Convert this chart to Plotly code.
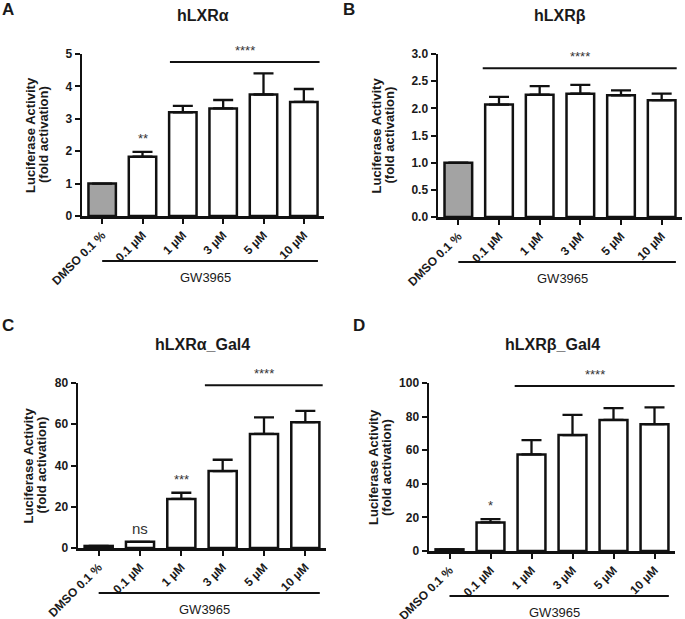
import plotly.graph_objects as go

# ---------------- data ----------------
categories = ["DMSO 0.1 %", "0.1 µM", "1 µM", "3 µM", "5 µM", "10 µM"]
group_label = "GW3965"

titles = ["hLXRα", "hLXRβ", "hLXRα_Gal4", "hLXRβ_Gal4"]
letters = ["A", "B", "C", "D"]

a_values = [1.0, 1.83, 3.20, 3.32, 3.75, 3.52]
a_errors = [0.0, 0.15, 0.20, 0.26, 0.65, 0.40]
b_values = [1.0, 2.07, 2.25, 2.27, 2.24, 2.15]
b_errors = [0.0, 0.14, 0.16, 0.16, 0.09, 0.12]
c_values = [1.0, 3.0, 23.8, 37.3, 55.3, 61.0]
c_errors = [0.0, 0.0, 3.0, 5.5, 8.0, 5.5]
d_values = [1.0, 17.0, 57.5, 69.0, 78.0, 75.5]
d_errors = [0.0, 2.0, 8.5, 12.0, 7.0, 10.0]

y_ranges = [[0, 5], [0, 3], [0, 80], [0, 100]]
y_dticks = [1, 0.5, 20, 20]
y_formats = ["d", ".1f", "d", "d"]

# bracket significance: (label, from category, to category, level)
brackets = [
    ("****", 1.68, 5.39, 4.75),
    ("****", 0.60, 5.37, 2.74),
    ("****", 2.57, 5.42, 78.9),
    ("****", 1.59, 5.49, 98.2),
]
# single-bar marks: (panel, category index, label)
bar_marks = [
    (0, 1, "**"),
    (2, 1, "ns"),
    (2, 2, "***"),
    (3, 1, "*"),
]

values = [a_values, b_values, c_values, d_values]
errors = [a_errors, b_errors, c_errors, d_errors]

# ---------------- layout geometry (pixels) ----------------
W, H = 685, 619
panel_px = [
    dict(x=(82, 324), y=(54, 216), ytitle=(31, 44), letter=(8, 9)),
    dict(x=(438, 682), y=(54, 217), ytitle=(376, 389), letter=(349, 9)),
    dict(x=(78, 326), y=(383, 548), ytitle=(28, 41), letter=(8, 325)),
    dict(x=(429, 675), y=(383, 551), ytitle=(374, 387), letter=(359, 325)),
]
FONT = "Liberation Sans, Arial, sans-serif"
TXT = "#1a1a1a"
GRAY = "#a3a3a3"


def px_x(p):
    return p / W


def px_y(p):
    return 1 - p / H


fig = go.Figure()
layout = dict(
    width=W, height=H, margin=dict(l=0, r=0, t=0, b=0, pad=0, autoexpand=False),
    paper_bgcolor="white", plot_bgcolor="white",
    showlegend=False, bargap=0.3,
    font=dict(family=FONT, color=TXT),
)
shapes = []
annotations = []
n = len(categories)

for i in range(4):
    sfx = "" if i == 0 else str(i + 1)
    xa, ya = "x" + sfx, "y" + sfx
    g = panel_px[i]
    hpx = g["y"][1] - g["y"][0]
    fill = [GRAY] + ["white"] * (n - 1)
    fig.add_trace(go.Bar(
        x=categories, y=values[i], xaxis=xa, yaxis=ya,
        marker=dict(color=fill, line=dict(color="#111111", width=2.5)),
        error_y=dict(type="data", symmetric=False, array=errors[i],
                     arrayminus=[0] * n, color="#111111", thickness=2.3, width=10),
        width=0.68,
    ))
    layout["xaxis" + sfx] = dict(
        domain=[px_x(g["x"][0]), px_x(g["x"][1])], anchor=ya,
        type="category", range=[-0.5, n - 0.5], automargin=False,
        showline=True, linewidth=2.5, linecolor="#111111",
        ticks="outside", ticklen=5, tickwidth=2, tickcolor="#111111",
        tickangle=-45, tickfont=dict(size=12, weight="bold", color=TXT),
        showgrid=False, zeroline=False, fixedrange=True,
    )
    layout["yaxis" + sfx] = dict(
        domain=[px_y(g["y"][1]), px_y(g["y"][0])], anchor=xa, automargin=False,
        range=y_ranges[i], dtick=y_dticks[i], tick0=0, tickformat=y_formats[i],
        showline=True, linewidth=2.5, linecolor="#111111",
        ticks="outside", ticklen=5, tickwidth=2, tickcolor="#111111",
        tickfont=dict(size=12, weight="bold", color=TXT),
        showgrid=False, zeroline=False, fixedrange=True,
    )

    # y axis title (two tight lines)
    ymid = px_y((g["y"][0] + g["y"][1]) / 2)
    for txt, xp in zip(["Luciferase Activity", "(fold activation)"], g["ytitle"]):
        annotations.append(dict(
            text=txt, xref="paper", yref="paper", x=px_x(xp), y=ymid,
            textangle=-90, showarrow=False, xanchor="center", yanchor="middle",
            font=dict(size=13, weight="bold", color=TXT),
        ))

    # panel title
    annotations.append(dict(
        text=titles[i], xref=xa + " domain", yref=ya + " domain",
        x=0.5, y=1 + 39 / hpx, showarrow=False, xanchor="center", yanchor="middle",
        font=dict(size=16, weight="bold", color=TXT),
    ))
    # panel letter
    annotations.append(dict(
        text=letters[i], xref="paper", yref="paper",
        x=px_x(g["letter"][0]), y=px_y(g["letter"][1]),
        showarrow=False, xanchor="center", yanchor="middle",
        font=dict(size=17, weight="bold", color=TXT),
    ))

    # GW3965 group line and label
    gx0 = (0 + 0.5) / n
    gx1 = (5.35 + 0.5) / n
    shapes.append(dict(
        type="line", xref=xa + " domain", yref=ya + " domain",
        x0=gx0, x1=gx1, y0=-45 / hpx, y1=-45 / hpx,
        line=dict(color="#111111", width=2),
    ))
    annotations.append(dict(
        text=group_label, xref=xa + " domain", yref=ya + " domain",
        x=(gx0 + gx1) / 2 - 0.02, y=-61 / hpx, showarrow=False,
        xanchor="center", yanchor="middle",
        font=dict(size=13, color=TXT),
    ))

    # significance bracket
    lab, c0, c1, lev = brackets[i]
    shapes.append(dict(
        type="line", xref=xa, yref=ya, x0=c0, x1=c1, y0=lev, y1=lev,
        line=dict(color="#111111", width=2),
    ))
    annotations.append(dict(
        text=lab, xref=xa, yref=ya, x=(c0 + c1) / 2, y=lev,
        showarrow=False, xanchor="center", yanchor="bottom", yshift=2,
        font=dict(size=13, color="#333333"),
    ))

for p, ci, lab in bar_marks:
    sfx = "" if p == 0 else str(p + 1)
    top = values[p][ci] + errors[p][ci]
    big = lab == "ns"
    annotations.append(dict(
        text=lab, xref="x" + sfx, yref="y" + sfx, x=ci, y=top,
        showarrow=False, xanchor="center", yanchor="bottom",
        yshift=4 if not big else 3,
        font=dict(size=15 if big else 13, color="#333333"),
    ))

layout["shapes"] = shapes
layout["annotations"] = annotations
fig.update_layout(**layout)
fig.write_html(
    "out.html",
    config={"displayModeBar": False, "staticPlot": True},
    post_script="document.body.style.margin='0';document.body.style.overflow='hidden';",
)
